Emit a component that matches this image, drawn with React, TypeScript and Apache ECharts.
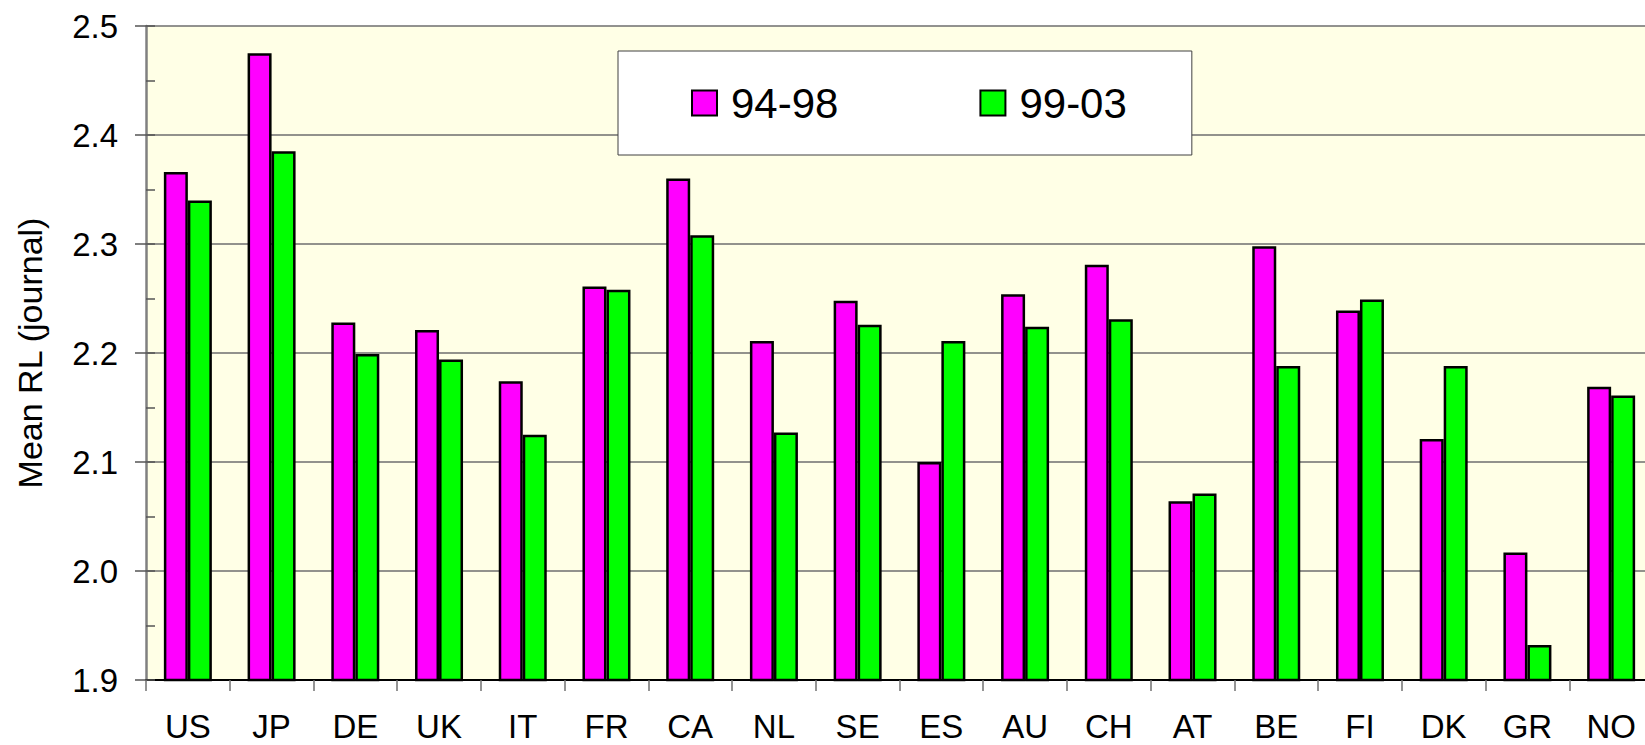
import React, { useEffect, useRef } from "react";
import * as echarts from "echarts";

const categories = ["US", "JP", "DE", "UK", "IT", "FR", "CA", "NL", "SE", "ES", "AU", "CH", "AT", "BE", "FI", "DK", "GR", "NO"];
const seriesNames = ["94-98", "99-03"];
const values9498 = [2.366, 2.475, 2.228, 2.221, 2.174, 2.261, 2.360, 2.211, 2.248, 2.100, 2.254, 2.281, 2.064, 2.298, 2.239, 2.121, 2.017, 2.169];
const values9903 = [2.340, 2.385, 2.199, 2.194, 2.125, 2.258, 2.308, 2.127, 2.226, 2.211, 2.224, 2.231, 2.071, 2.188, 2.249, 2.188, 1.932, 2.161];
const yTitle = "Mean RL (journal)";

const FONT = '"Liberation Sans", Arial, sans-serif';

export default function App() {
  const ref = useRef<HTMLDivElement>(null);

  useEffect(() => {
    if (!ref.current) return;
    const chart = echarts.init(ref.current, undefined, { renderer: "svg" });
    chart.setOption({
      animation: false,
      textStyle: { fontFamily: FONT },
      grid: {
        left: 146,
        right: 7,
        top: 26,
        bottom: 65,
        show: true,
        backgroundColor: "#FFFFE6",
        borderWidth: 0,
      },
      legend: {
        left: 618,
        top: 51,
        orient: "horizontal",
        padding: [31, 65, 31, 73],
        itemWidth: 25,
        itemHeight: 25,
        itemGap: 141,
        backgroundColor: "#ffffff",
        borderColor: "#404040",
        borderWidth: 1,
        textStyle: { fontSize: 42, color: "#000", fontFamily: FONT, padding: [0, 0, 0, 9] },
        data: seriesNames.map((n) => ({ name: n, icon: "rect" })),
      },
      xAxis: {
        type: "category",
        data: categories,
        axisLine: { lineStyle: { color: "#000", width: 2 } },
        axisTick: { show: true, length: 11, lineStyle: { color: "#707070", width: 1.5 } },
        axisLabel: { fontSize: 33, color: "#000", margin: 30, fontFamily: FONT, interval: 0 },
        splitLine: { show: false },
      },
      yAxis: [
        {
          type: "value",
          min: 1.9,
          max: 2.5,
          interval: 0.1,
          position: "left",
          name: yTitle,
          nameLocation: "middle",
          nameGap: 99,
          nameRotate: 90,
          nameTextStyle: { fontSize: 34, color: "#000", fontFamily: FONT },
          axisLine: { show: true, lineStyle: { color: "#808080", width: 2.5 } },
          axisTick: { show: true, inside: false, length: 11, lineStyle: { color: "#555", width: 1.5 } },
          axisLabel: {
            fontSize: 33,
            color: "#000",
            margin: 28,
            fontFamily: FONT,
            formatter: (v: number) => v.toFixed(1),
          },
          splitLine: { show: true, lineStyle: { color: "#6e6e6e", width: 1.5 } },
        },
        {
          type: "value",
          min: 1.9,
          max: 2.5,
          interval: 0.05,
          position: "left",
          axisLine: { show: false },
          axisTick: { show: true, inside: true, length: 9, lineStyle: { color: "#555", width: 1.5 } },
          axisLabel: { show: false },
          splitLine: { show: false },
        },
      ],
      series: [
        {
          name: seriesNames[0],
          type: "bar",
          yAxisIndex: 0,
          data: values9498,
          barWidth: 24,
          barGap: "0%",
          itemStyle: { color: "#FF00FF", borderColor: "#000", borderWidth: 2.5 },
        },
        {
          name: seriesNames[1],
          type: "bar",
          yAxisIndex: 0,
          data: values9903,
          barWidth: 24,
          barGap: "0%",
          itemStyle: { color: "#00FF00", borderColor: "#000", borderWidth: 2.5 },
        },
      ],
    });
    return () => chart.dispose();
  }, []);

  return (
    <div style={{ position: "fixed", left: 0, top: 0, width: 1645, height: 745, overflow: "hidden", background: "#fff" }}>
      <div ref={ref} style={{ width: 1660, height: 745 }} />
    </div>
  );
}
